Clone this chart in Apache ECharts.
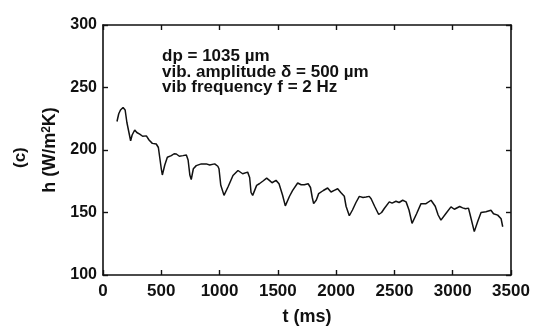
<!DOCTYPE html>
<html>
<head>
<meta charset="utf-8">
<script src="https://cdn.jsdelivr.net/npm/echarts@6/dist/echarts.min.js"></script>
<style>html,body{margin:0;padding:0;background:#fff}#c{width:545px;height:331px}</style>
</head>
<body>
<div id="c"></div>
<script>
var timeMs = [120,135,150,172,190,205,237,250,272,290,315,340,372,395,423,457,475,500,509,530,552,586,610,629,655,686,715,730,745,757,775,800,843,886,915,958,985,995,1010,1038,1075,1115,1158,1198,1241,1258,1270,1284,1300,1318,1341,1370,1404,1430,1450,1484,1510,1540,1564,1600,1627,1670,1700,1727,1760,1780,1795,1807,1830,1850,1890,1927,1956,1984,2013,2040,2070,2085,2113,2140,2170,2199,2230,2256,2284,2300,2330,2365,2390,2413,2456,2480,2513,2540,2571,2600,2610,2625,2651,2690,2728,2771,2814,2850,2875,2899,2940,2985,3014,3060,3085,3110,3135,3150,3185,3215,3243,3285,3328,3350,3386,3415,3429];
var hValues = [222.8,229,232,234,232,222,207.4,212,216,214,212.7,211,211.3,208,205.3,204.8,202,185,180,188,194.2,195.5,197,196.8,195,195.5,196,192,180,176.4,185,187.5,188.9,188.9,188,188.9,187,185,172,163.7,171,179.6,183.6,181,182.3,178,166,163.7,165,171.7,173,175,177.5,175.5,173.8,175.7,173,164,155.3,163,167.7,173.6,172.2,172.2,173,170,162,157.1,160,165.1,167.6,169.6,166.4,167.7,169,166,163,155,147.4,152,158,162.9,162,162.4,162.9,161,155,148.4,150,153.2,158.5,157.5,159,158,159.8,158.5,158.5,152,141.3,149,157.1,157.1,159.8,155,148,143.9,149,154.5,152.6,154.8,153.7,153,153.5,148,134.7,143,150,150.6,151.8,149,147.9,145,138.6];
var xTicks = [0,500,1000,1500,2000,2500,3000,3500];
var yTicks = [100,150,200,250,300];
var annotationLines = ['dp = 1035 \u00b5m', 'vib. amplitude \u03b4 = 500 \u00b5m', 'vib frequency f = 2 Hz'];
var panelLabel = '(c)';

var seriesData = timeMs.map(function(t, i){ return [t, hValues[i]]; });
var ink = '#111';
var fam = '"Liberation Sans", Arial, sans-serif';
function mkLine(){ return {show:true, onZero:false, lineStyle:{color:ink, width:1.6}}; }
function mkTick(){ return {show:true, inside:true, length:5, lineStyle:{color:ink, width:1.4}}; }
function plain(v){ return String(v); }

var chart = echarts.init(document.getElementById('c'), null, {renderer:'canvas'});
chart.setOption({
  animation:false,
  backgroundColor:'#fff',
  grid:{left:103, right:34, top:25, bottom:54, containLabel:false},
  xAxis:[{
    type:'value', position:'bottom', min:xTicks[0], max:xTicks[xTicks.length-1], interval:500,
    axisLine:mkLine(), axisTick:mkTick(), splitLine:{show:false},
    axisLabel:{color:ink, fontFamily:fam, fontWeight:'bold', fontSize:17, margin:8, formatter:plain},
    name:'t (ms)', nameLocation:'middle', nameGap:33,
    nameTextStyle:{color:ink, fontFamily:fam, fontWeight:'bold', fontSize:18}
  },{
    type:'value', position:'top', min:xTicks[0], max:xTicks[xTicks.length-1], interval:500,
    axisLine:mkLine(), axisTick:mkTick(), axisLabel:{show:false}, splitLine:{show:false}
  }],
  yAxis:[{
    type:'value', position:'left', min:yTicks[0], max:yTicks[yTicks.length-1], interval:50,
    axisLine:mkLine(), axisTick:mkTick(), splitLine:{show:false},
    axisLabel:{color:ink, fontFamily:fam, fontWeight:'bold', fontSize:16, margin:6, formatter:plain},
    name:'h (W/m{s|2}K)', nameLocation:'middle', nameRotate:90, nameGap:42,
    nameTextStyle:{color:ink, fontFamily:fam, fontWeight:'bold', fontSize:18,
      rich:{s:{fontSize:12, fontWeight:'bold', verticalAlign:'top', color:ink, fontFamily:fam, padding:[0,0,8,0]}}}
  },{
    type:'value', position:'right', min:yTicks[0], max:yTicks[yTicks.length-1], interval:50,
    axisLine:mkLine(), axisTick:mkTick(), axisLabel:{show:false}, splitLine:{show:false}
  }],
  graphic:[{
    type:'text', left:162, top:48,
    style:{text:annotationLines.join('\n'), fill:ink, font:'bold 17px ' + fam, lineHeight:15.5}
  },{
    type:'text', x:12, y:168, rotation:Math.PI/2,
    style:{text:panelLabel, fill:ink, font:'bold 17px ' + fam}
  }],
  series:[{
    type:'line', data:seriesData, showSymbol:false, smooth:false,
    lineStyle:{color:ink, width:1.5}, xAxisIndex:0, yAxisIndex:0
  }]
});
</script>
</body>
</html>
